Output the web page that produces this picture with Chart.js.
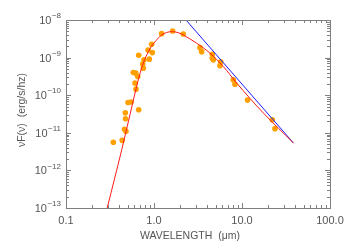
<!DOCTYPE html>
<html>
<head>
<meta charset="utf-8">
<script src="https://cdn.jsdelivr.net/npm/chart.js@4/dist/chart.umd.min.js"></script>
<style>
  html, body { margin: 0; padding: 0; background: #fff; }
  canvas { display: block; }
</style>
</head>
<body>
<canvas id="sed" width="350" height="250"></canvas>
<script>
// observed photometry (wavelength in micron, nuF(nu) in erg/s/hz)
const obsWave = [1.22, 1.63, 2.15, 0.94, 0.855, 0.957, 0.67, 0.77, 0.744, 0.885,
  0.756, 0.582, 0.62, 0.653, 0.608, 0.624, 0.507, 0.548, 0.472, 0.67,
  0.475, 0.462, 0.48, 0.345, 0.435, 3.33, 3.48, 4.6, 4.6, 4.72,
  5.73, 5.62, 7.96, 8.32, 11.55, 22.1, 23.7];
const obsFlux = [4.34e-9, 5.1e-9, 4.25e-9, 2.27e-9, 1.6e-9, 1.36e-9, 1.16e-9, 8.7e-10, 6.7e-10, 9.1e-10,
  5.2e-10, 4.0e-10, 3.86e-10, 3.13e-10, 2.1e-10, 1.45e-10, 6.4e-11, 6.6e-11, 3.4e-11, 4.1e-11,
  2.37e-11, 1.24e-11, 1.1e-11, 5.6e-12, 6.3e-12, 1.84e-9, 1.44e-9, 1.23e-9, 9.6e-10, 8.7e-10,
  7.7e-10, 6.1e-10, 2.56e-10, 1.95e-10, 7.4e-11, 2.22e-11, 1.29e-11];

// model curve (red)
const modelWave = [0.294, 0.43, 0.533, 0.663, 0.74, 0.83, 0.93, 1.05, 1.22, 1.59,
  1.97, 2.15, 3.06, 4.33, 6.13, 8.71, 17.5, 38.3];
const modelFlux = [1.0e-13, 3.56e-12, 3.0e-11, 2.56e-10, 6.2e-10, 1.2e-9, 1.95e-9, 2.8e-9, 4.0e-9, 4.9e-9,
  4.44e-9, 4.0e-9, 2.41e-9, 1.31e-9, 5.8e-10, 2.1e-10, 3.35e-11, 5.4e-12];

// Rayleigh-Jeans tail (blue)
const rjWave = [2.31, 38.3];
const rjFlux = [1.0e-8, 5.4e-12];

const xTicks = [0.1, 1, 10, 100];
const xTickLabels = ['0.1', '1.0', '10.0', '100.0'];
const yTicks = [1e-13, 1e-12, 1e-11, 1e-10, 1e-9, 1e-8];
const yTickExps = ['\u221213', '\u221212', '\u221211', '\u221210', '\u22129', '\u22128'];

const toPts = (xs, ys) => xs.map((x, i) => ({ x: x, y: ys[i] }));

const axisColor = '#7f7f7f';
const textColor = '#555';
const fontFam = '"Liberation Sans", Arial, sans-serif';

// box, inward ticks and labels, IDL style
const frame = {
  id: 'frame',
  afterDraw(chart) {
    const ctx = chart.ctx;
    const a = chart.chartArea;
    const xs = chart.scales.x, ys = chart.scales.y;
    ctx.save();
    ctx.strokeStyle = axisColor;
    ctx.lineWidth = 1;
    ctx.strokeRect(Math.round(a.left) + 0.5, Math.round(a.top) + 0.5,
      Math.round(a.right - a.left), Math.round(a.bottom - a.top));

    ctx.beginPath();
    xTicks.forEach((d, i) => {
      for (let k = 1; k <= 9; k++) {
        if (k > 1 && i === xTicks.length - 1) break;
        const px = Math.round(xs.getPixelForValue(d * k)) + 0.5;
        const len = k === 1 ? 5 : 3;
        ctx.moveTo(px, a.bottom); ctx.lineTo(px, a.bottom - len);
        ctx.moveTo(px, a.top); ctx.lineTo(px, a.top + len);
      }
    });
    yTicks.forEach((d, i) => {
      for (let k = 1; k <= 9; k++) {
        if (k > 1 && i === yTicks.length - 1) break;
        const py = Math.round(ys.getPixelForValue(d * k)) + 0.5;
        const len = k === 1 ? 5 : 3;
        ctx.moveTo(a.left, py); ctx.lineTo(a.left + len, py);
        ctx.moveTo(a.right, py); ctx.lineTo(a.right - len, py);
      }
    });
    ctx.stroke();

    ctx.fillStyle = textColor;
    ctx.font = '11px ' + fontFam;
    ctx.textAlign = 'center';
    ctx.textBaseline = 'middle';
    xTicks.forEach((v, i) => {
      ctx.fillText(xTickLabels[i], xs.getPixelForValue(v), a.bottom + 13);
    });

    yTicks.forEach((v, i) => {
      const py = ys.getPixelForValue(v);
      ctx.font = '8px ' + fontFam;
      const ew = ctx.measureText(yTickExps[i]).width;
      const right = a.left - 5;
      ctx.textAlign = 'right';
      ctx.fillText(yTickExps[i], right, py - 4);
      ctx.font = '11px ' + fontFam;
      ctx.fillText('10', right - ew - 0.5, py + 1);
    });

    ctx.font = '10.5px ' + fontFam;
    ctx.textAlign = 'center';
    ctx.fillText('WAVELENGTH  (\u03bcm)', 190, 236);

    ctx.translate(22, (a.top + a.bottom) / 2 - 4);
    ctx.rotate(-Math.PI / 2);
    ctx.fillText('\u03bdF(\u03bd)  (erg/s/hz)', 0, 0);
    ctx.restore();
  }
};

new Chart(document.getElementById('sed'), {
  type: 'scatter',
  data: {
    datasets: [
      {
        data: toPts(modelWave, modelFlux),
        showLine: true,
        borderColor: '#ff1a1a',
        borderWidth: 1,
        pointRadius: 0,
        cubicInterpolationMode: 'monotone',
        order: 1
      },
      {
        data: toPts(rjWave, rjFlux),
        showLine: true,
        borderColor: '#1a1aff',
        borderWidth: 1,
        pointRadius: 0,
        order: 2
      },
      {
        data: toPts(obsWave, obsFlux),
        backgroundColor: '#ffa000',
        borderWidth: 0,
        pointRadius: 2.8,
        order: 3
      }
    ]
  },
  options: {
    responsive: false,
    animation: false,
    layout: { padding: { left: 66, right: 20, top: 20, bottom: 42 } },
    scales: {
      x: { type: 'logarithmic', min: 0.1, max: 100, display: false },
      y: { type: 'logarithmic', min: 1e-13, max: 1e-8, display: false }
    },
    plugins: {
      legend: { display: false },
      tooltip: { enabled: false }
    }
  },
  plugins: [frame]
});
</script>
</body>
</html>
